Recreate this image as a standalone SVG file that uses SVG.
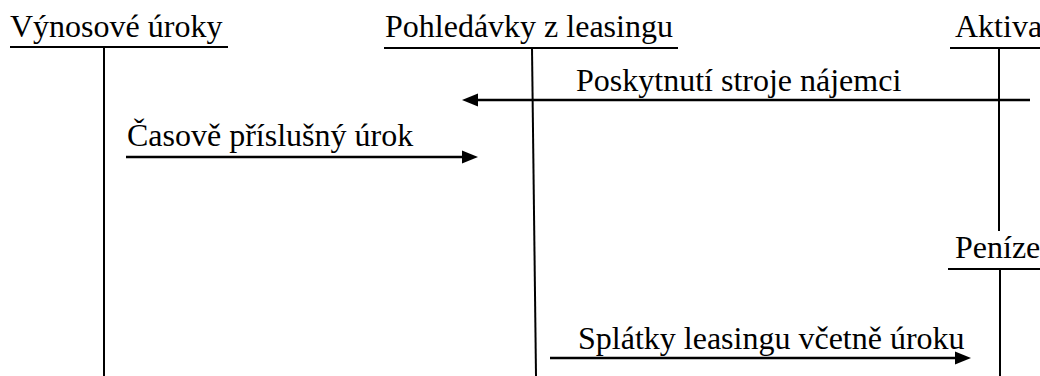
<svg xmlns="http://www.w3.org/2000/svg" width="1040" height="376" viewBox="0 0 1040 376">
<style>
.t{font-family:"Liberation Serif","Times New Roman",serif;font-size:32px;fill:#000}
.ln{stroke:#000;stroke-width:2;fill:none}
.ar{stroke:#000;stroke-width:2.5;fill:none}
.hd{fill:#000}
</style>
<rect width="1040" height="376" fill="#fff"/>
<g id="vynosove-uroky">
<text class="t" x="10" y="37">Výnosové úroky</text>
<line class="ln" x1="10" y1="47" x2="228" y2="47"/>
<line class="ln" x1="104" y1="47" x2="104" y2="376"/>
</g>
<g id="pohledavky">
<text class="t" x="385" y="37">Pohledávky z leasingu</text>
<line class="ln" x1="384" y1="48" x2="678" y2="48"/>
<line class="ln" x1="532" y1="48" x2="536" y2="376"/>
</g>
<g id="aktiva">
<text class="t" x="955" y="37">Aktiva</text>
<line class="ln" x1="950" y1="48" x2="1040" y2="48"/>
<line class="ln" x1="999" y1="48" x2="999" y2="231"/>
</g>
<g id="penize">
<text class="t" x="955" y="258">Peníze</text>
<line class="ln" x1="948" y1="269" x2="1040" y2="269"/>
<line class="ln" x1="1000" y1="269" x2="1000" y2="376"/>
</g>
<g id="connectors">
<g id="c1">
<line class="ar" x1="1030" y1="100" x2="476" y2="100"/>
<polygon class="hd" points="462,100 478,93.5 478,106.5"/>
<text class="t" x="576" y="91">Poskytnutí stroje nájemci</text>
</g>
<g id="c2">
<line class="ar" x1="126" y1="157" x2="464" y2="157"/>
<polygon class="hd" points="478,157 462,150.5 462,163.5"/>
<text class="t" x="127" y="146">Časově příslušný úrok</text>
</g>
<g id="c3">
<line class="ar" x1="550" y1="358" x2="957" y2="358"/>
<polygon class="hd" points="971,358 955,351.5 955,364.5"/>
<text class="t" x="578" y="349">Splátky leasingu včetně úroku</text>
</g>
</g>
</svg>
